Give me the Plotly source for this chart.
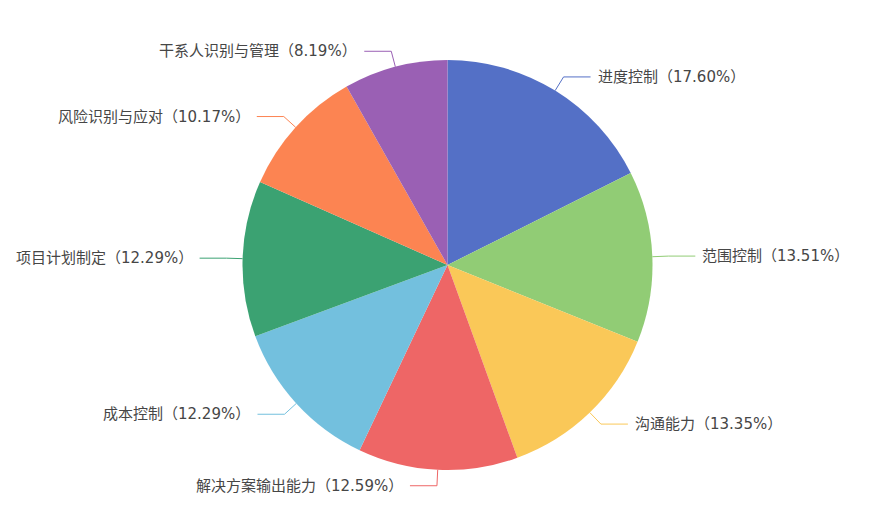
import math
import plotly.graph_objects as go

categories = ["进度控制", "范围控制", "沟通能力", "解决方案输出能力",
              "成本控制", "项目计划制定", "风险识别与应对", "干系人识别与管理"]
values = [17.60, 13.51, 13.35, 12.59, 12.29, 12.29, 10.17, 8.19]
colors = ["#5470c6", "#91cc75", "#fac858", "#ee6666",
          "#73c0de", "#3ba272", "#fc8452", "#9a60b4"]

W, H = 874, 524
# page body has an 8px offset, so geometry is expressed relative to the figure
CX, CY, R = 439.5, 257.0, 205.0
LEN1, LEN2, GAP = 16.0, 27.0, 5.0

fig = go.Figure()
fig.add_trace(go.Pie(
    labels=categories, values=values, sort=False, direction="clockwise",
    rotation=0, textinfo="none", hoverinfo="label+percent",
    marker=dict(colors=colors, line=dict(width=0)),
    domain=dict(x=[(CX - R) / W, (CX + R) / W], y=[(H - CY - R) / H, (H - CY + R) / H]),
    showlegend=False,
))

def px(x, y):
    return x / W, 1 - y / H

total = sum(values)
cum = 0.0
shapes, annotations = [], []
for name, v, c in zip(categories, values, colors):
    mid = (cum + v / 2) / total * 2 * math.pi
    cum += v
    sx, sy = math.sin(mid), -math.cos(mid)
    side = 1 if sx >= 0 else -1
    x1, y1 = CX + R * sx, CY + R * sy
    x2, y2 = CX + (R + LEN1) * sx, CY + (R + LEN1) * sy
    x3, y3 = x2 + side * LEN2, y2
    p1, p2, p3 = px(x1, y1), px(x2, y2), px(x3, y3)
    shapes.append(dict(type="path", xref="paper", yref="paper",
                       path=f"M {p1[0]} {p1[1]} L {p2[0]} {p2[1]} L {p3[0]} {p3[1]}",
                       line=dict(color=c, width=1)))
    tx, ty = px(x3 + side * GAP, y3)
    annotations.append(dict(x=tx, y=ty, xref="paper", yref="paper",
                            text=f"{name}（{v:.2f}%）", showarrow=False,
                            xanchor="left" if side > 0 else "right", yanchor="middle",
                            font=dict(size=15, color="#464646",
                                      family="DejaVu Sans, Noto Sans CJK SC, sans-serif")))

fig.update_layout(width=W, height=H, margin=dict(l=0, r=0, t=0, b=0),
                  paper_bgcolor="white", plot_bgcolor="white",
                  shapes=shapes, annotations=annotations)
fig.write_html("out.html")
